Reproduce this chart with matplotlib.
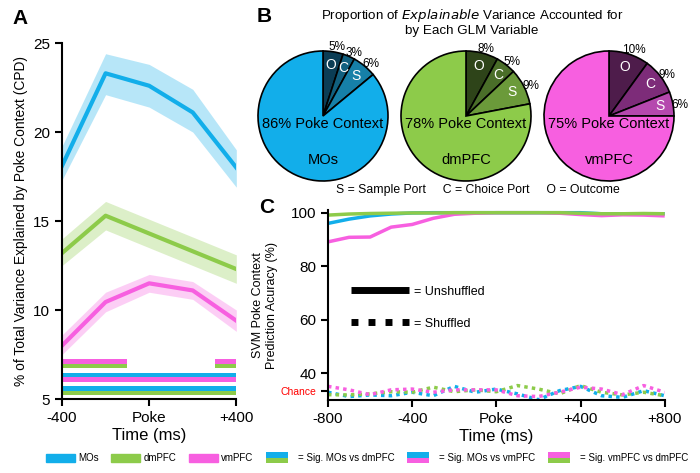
"""Recreate the CPD / GLM / SVM poke-context figure."""

import numpy as np
import matplotlib
matplotlib.use("Agg")
import matplotlib.pyplot as plt
from matplotlib.lines import Line2D
from matplotlib.patches import Rectangle
from matplotlib.legend_handler import HandlerBase

plt.rcParams["font.family"] = ["Liberation Sans", "DejaVu Sans"]

# ---- colours -------------------------------------------------------------
BLUE = "#12AEEA"
GREEN = "#8DCB4A"
PINK = "#F75FE0"

# ---- panel A: CPD of poke context ---------------------------------------
cpd_time = [-400, -200, 0, 200, 400]
mos_cpd = [18.1, 23.3, 22.6, 21.1, 18.0]
mos_lo = [17.3, 22.1, 21.4, 20.0, 16.9]
mos_hi = [19.2, 24.4, 23.8, 22.4, 19.0]
dm_cpd = [13.2, 15.3, 14.3, 13.3, 12.3]
dm_lo = [12.5, 14.5, 13.5, 12.5, 11.5]
dm_hi = [14.0, 16.1, 15.1, 14.1, 13.1]
vm_cpd = [8.0, 10.45, 11.5, 11.1, 9.4]
vm_lo = [7.5, 9.9, 11.0, 10.6, 8.8]
vm_hi = [8.6, 11.0, 12.0, 11.6, 10.0]

# significance segments (start, end) in ms
sig_vm_dm = [(-400, -100), (300, 400)]
sig_mo_vm = [(-400, 400)]
sig_mo_dm = [(-400, 400)]

# ---- panel B: pies --------------------------------------------------------
pie_regions = ["MOs", "dmPFC", "vmPFC"]
pie_letters = ["O", "C", "S"]
pie_small = [[5, 3, 6], [8, 5, 9], [10, 9, 6]]
pie_poke = [86, 78, 75]
pie_shades = [
    ["#0B3D55", "#11607F", "#1680A8", BLUE],
    ["#2E4419", "#4A6E29", "#6B9A3A", GREEN],
    ["#4E1C4B", "#7D2C79", "#B548AE", PINK],
]

# ---- panel C: SVM decoding ------------------------------------------------
svm_time = [-800, -700, -600, -500, -400, -300, -200, -100, 0,
            100, 200, 300, 400, 500, 600, 700, 800]
mos_acc = [96.0, 97.6, 98.8, 99.5, 99.9, 100, 100, 100, 100,
           100, 100, 100, 100, 99.6, 99.5, 99.6, 99.6]
dm_acc = [99.1, 99.5, 99.7, 99.8, 99.9, 99.9, 100, 100, 100,
          100, 100, 100, 99.8, 99.6, 99.6, 99.7, 99.6]
vm_acc = [89.1, 90.8, 90.9, 94.6, 95.6, 97.9, 99.4, 99.8, 100,
          100, 100, 99.8, 99.3, 98.9, 99.2, 99.1, 98.8]
mos_shuf = [32.9, 31.3, 31.9, 31.6, 32.9, 31.6, 35.1, 32.9, 34.1,
            32.3, 30.1, 33.5, 35.1, 31.6, 31.0, 33.5, 31.6]
dm_shuf = [32.0, 31.9, 32.3, 33.1, 32.9, 34.8, 33.1, 33.8, 33.1,
           35.4, 34.1, 32.3, 35.4, 32.9, 31.9, 32.9, 31.6]
vm_shuf = [35.1, 33.8, 32.0, 33.8, 34.1, 32.9, 33.8, 33.8, 33.8,
           31.6, 31.3, 32.9, 34.8, 34.1, 32.0, 35.4, 32.9]
chance = 100 / 3


class PairKey:
    def __init__(self, top, bottom):
        self.top = top
        self.bottom = bottom


class PairHandler(HandlerBase):
    def create_artists(self, legend, orig, xd, yd, width, height, fontsize, trans):
        w = width * 0.75
        h = height * 1.5
        y0 = -yd - (h - height) / 2
        r1 = Rectangle((-xd, y0 + h / 2), w, h / 2, facecolor=orig.top, lw=0, transform=trans)
        r2 = Rectangle((-xd, y0), w, h / 2, facecolor=orig.bottom, lw=0, transform=trans)
        return [r1, r2]


def main():
    fig = plt.figure(figsize=(7, 4.73), dpi=100)

    # ---------------- A ----------------
    ax = fig.add_axes([0.0886, 0.1564, 0.249, 0.7526])
    for y, lo, hi, c in [(mos_cpd, mos_lo, mos_hi, BLUE),
                         (dm_cpd, dm_lo, dm_hi, GREEN),
                         (vm_cpd, vm_lo, vm_hi, PINK)]:
        ax.fill_between(cpd_time, lo, hi, color=c, alpha=0.3, lw=0)
        ax.plot(cpd_time, y, color=c, lw=3)

    bar_h = 0.25
    rows = [(sig_vm_dm, 7.1, PINK), (sig_vm_dm, 6.85, GREEN),
            (sig_mo_vm, 6.35, BLUE), (sig_mo_vm, 6.1, PINK),
            (sig_mo_dm, 5.6, BLUE), (sig_mo_dm, 5.35, GREEN)]
    for segs, yc, c in rows:
        for s, e in segs:
            ax.barh(yc, e - s, left=s, height=bar_h, color=c, lw=0)

    ax.set_xlim(-400, 400)
    ax.set_ylim(5, 25)
    ax.set_xticks([-400, 0, 400], ["-400", "Poke", "+400"])
    ax.set_yticks([5, 10, 15, 20, 25])
    ax.tick_params(labelsize=11, width=1.5, length=5)
    ax.spines["top"].set_visible(False)
    ax.spines["right"].set_visible(False)
    for s in ("left", "bottom"):
        ax.spines[s].set_linewidth(1.5)
    ax.set_xlabel("Time (ms)", fontsize=12, labelpad=2)
    ax.set_ylabel("% of Total Variance Explained by Poke Context (CPD)", fontsize=9.9, labelpad=4)

    # ---------------- B ----------------
    centers = [323, 466, 609]
    R = 65
    for i, cx in enumerate(centers):
        pax = fig.add_axes([(cx - R) / 700, 1 - (116 + R) / 473, 2 * R / 700, 2 * R / 473])
        vals = pie_small[i] + [pie_poke[i]]
        pax.pie(vals, colors=pie_shades[i], startangle=90, counterclock=False,
                wedgeprops=dict(edgecolor="black", linewidth=1.2))
        pax.set_xlim(-1, 1)
        pax.set_ylim(-1, 1)
        pax.set_aspect("auto")
        cum = 0
        for v, letter in zip(pie_small[i], pie_letters):
            mid_deg = 90 - 360 * (cum + v / 2) / 100
            mid = np.deg2rad(mid_deg)
            lab = np.deg2rad(mid_deg - 2)
            pax.text(0.8 * np.cos(mid), 0.8 * np.sin(mid), letter, color="white",
                     ha="center", va="center", fontsize=10)
            pax.text(1.1 * np.cos(lab), 1.08 * np.sin(lab), f"{v}%", color="black",
                     ha="center", va="center", fontsize=8.5, clip_on=False)
            cum += v
        pax.text(0, -0.12, f"{pie_poke[i]}% Poke Context", ha="center", va="center",
                 fontsize=10.5, clip_on=False)
        pax.text(0, -0.67, pie_regions[i], ha="center", va="center", fontsize=10.5)

    fig.text(472 / 700, 1 - 22 / 473,
             "Proportion of $\\it{Explainable}$ Variance Accounted for\nby Each GLM Variable",
             ha="center", va="center", fontsize=9.6, linespacing=1.15)
    fig.text(478 / 700, 1 - 190 / 473,
             "S = Sample Port     C = Choice Port     O = Outcome",
             ha="center", va="center", fontsize=8.8)

    # ---------------- C ----------------
    cx_ax = fig.add_axes([0.4686, 0.1543, 0.481, 0.4017])
    for y, c in [(mos_acc, BLUE), (vm_acc, PINK), (dm_acc, GREEN)]:
        cx_ax.plot(svm_time, y, color=c, lw=2.5, solid_capstyle="butt")
    for y, c in [(mos_shuf, BLUE), (dm_shuf, GREEN), (vm_shuf, PINK)]:
        cx_ax.plot(svm_time, y, color=c, lw=2.5, ls=(0, (1, 1.2)))
    cx_ax.set_xlim(-800, 800)
    cx_ax.set_ylim(30, 101)
    cx_ax.set_xticks([-800, -400, 0, 400, 800], ["-800", "-400", "Poke", "+400", "+800"])
    cx_ax.set_yticks([chance, 40, 60, 80, 100], ["Chance", "40", "60", "80", "100"])
    cx_ax.tick_params(labelsize=11, width=1.5, length=5)
    lab = cx_ax.get_yticklabels()[0]
    lab.set_color("red")
    lab.set_fontsize(7.5)
    cx_ax.get_yticklines()[0].set_color("red")
    cx_ax.spines["top"].set_visible(False)
    cx_ax.spines["right"].set_visible(False)
    for s in ("left", "bottom"):
        cx_ax.spines[s].set_linewidth(1.5)
    cx_ax.set_xlabel("Time (ms)", fontsize=12, labelpad=2)
    cx_ax.set_ylabel("SVM Poke Context\nPrediction Acuracy (%)", fontsize=9, labelpad=2)

    key = [Line2D([], [], color="black", lw=5, solid_capstyle="butt"),
           Line2D([], [], color="black", lw=5, ls=(0, (1, 1.45)))]
    cx_ax.legend(key, ["= Unshuffled", "= Shuffled"], loc="upper left",
                 bbox_to_anchor=(0.035, 0.66), frameon=False, fontsize=9,
                 handlelength=4.6, handletextpad=0.4, labelspacing=1.6)

    # panel letters
    fig.text(12 / 700, 1 - 18 / 473, "A", fontsize=15, fontweight="bold", va="center")
    fig.text(257 / 700, 1 - 16 / 473, "B", fontsize=15, fontweight="bold", va="center")
    fig.text(259 / 700, 1 - 207 / 473, "C", fontsize=15, fontweight="bold", va="center")

    # bottom legend
    handles = [Rectangle((0, 0), 1, 1, color=BLUE), Rectangle((0, 0), 1, 1, color=GREEN),
               Rectangle((0, 0), 1, 1, color=PINK), PairKey(BLUE, GREEN),
               PairKey(BLUE, PINK), PairKey(PINK, GREEN)]
    labels = ["MOs", "dmPFC", "vmPFC", "= Sig. MOs vs dmPFC",
              "= Sig. MOs vs vmPFC", "= Sig. vmPFC vs dmPFC"]
    fig.legend(handles, labels, loc="center", bbox_to_anchor=(367 / 700, 1 - 458 / 473),
               ncol=6, frameon=False, fontsize=7, handlelength=3.0, handleheight=0.85,
               handletextpad=0.3, columnspacing=1.3, handler_map={PairKey: PairHandler()})

    fig.savefig("out.png", dpi=100)


if __name__ == "__main__":
    main()
